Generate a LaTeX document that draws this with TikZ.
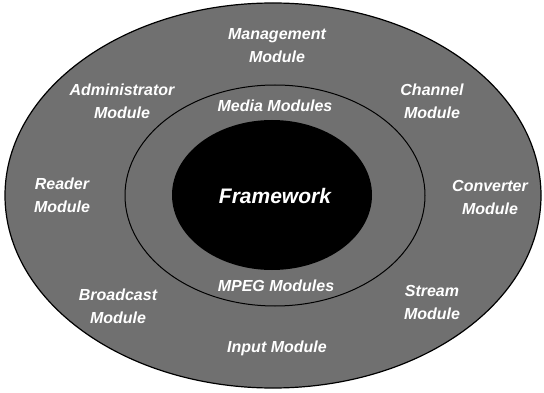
\documentclass[tikz,border=0pt]{standalone}
\usepackage{fontspec}
\setmainfont{Liberation Sans}
\begin{document}
\begin{tikzpicture}[x=1pt,y=-1pt,
  lbl/.style={text=white,font=\bfseries\itshape\fontsize{16}{23}\selectfont,align=center,inner sep=0pt},
  ring/.style={draw=black,line width=1.2pt}]
\useasboundingbox (0,0) rectangle (544,393);
\fill[white] (0,0) rectangle (544,393);
% rings
\coordinate (c) at (273,195.5);
\draw[ring,fill=black!56] (c) ellipse [x radius=268, y radius=192.5];
\draw[ring,line width=1pt] (275,195.5) ellipse [x radius=150, y radius=110.5];
\fill[black] (272,195) ellipse [x radius=100, y radius=75];
% labels
\node[lbl] (mgmt) at (277,46) {Management\\Module};
\node[lbl] (admin) at (122,101) {Administrator\\Module};
\node[lbl] (chan) at (432,101) {Channel\\Module};
\node[lbl] (media) at (275,106) {Media Modules};
\node[lbl] (reader) at (62,195) {Reader\\Module};
\node[lbl,font=\bfseries\itshape\fontsize{21}{24}\selectfont] (fw) at (275,196) {Framework};
\node[lbl] (conv) at (490,197) {Converter\\Module};
\node[lbl] (mpeg) at (276,286) {MPEG Modules};
\node[lbl] (bcast) at (118,306) {Broadcast\\Module};
\node[lbl] (stream) at (432,302) {Stream\\Module};
\node[lbl] (input) at (277,348) {Input Module};
\end{tikzpicture}
\end{document}
